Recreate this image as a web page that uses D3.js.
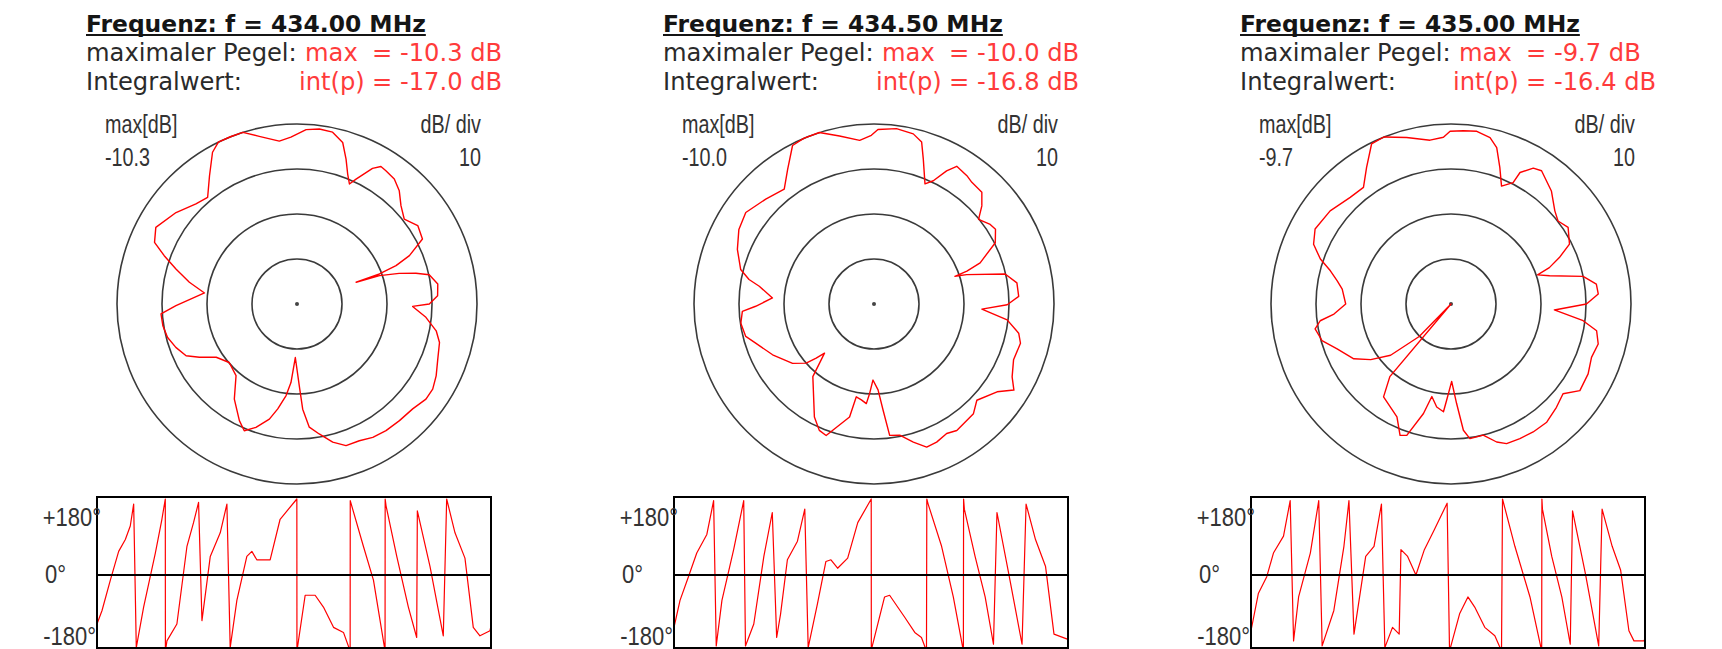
<!DOCTYPE html>
<html>
<head>
<meta charset="utf-8">
<script src="https://cdn.jsdelivr.net/npm/d3@7"></script>
<style>
  body { margin: 0; background: #fff; }
  svg { display: block; }
</style>
</head>
<body>
<svg id="chart" width="1722" height="649"></svg>
<script>
'use strict';

// values
var freqs = ['434.00', '434.50', '435.00'];
var maxLevels = ['-10.3', '-10.0', '-9.7'];
var intLevels = ['-17.0', '-16.8', '-16.4'];
var dbPerDiv = 10;
var ringLevels = [-30, -20, -10, 0];
var phaseTicks = [180, 0, -180];
var phaseTickLabels = ['+180°', '0°', '-180°'];

/* polar traces: [azimuth deg (clockwise from top), level dB rel. max] */
var polar1 = [[3.0,-1.2],[7.3,-0.8],[11.7,-1.0],[15.8,-2.7],[18.7,-6.0],[21.3,-9.0],[23.6,-10.9],[25.3,-9.3],[29.1,-5.5],[31.4,-4.2],[33.7,-4.4],[37.9,-4.8],[42.1,-6.1],[46.6,-8.2],[51.6,-9.6],[57.0,-8.0],[62.6,-8.6],[66.7,-12.8],[68.8,-16.4],[70.0,-20.5],[69.8,-26.0],[71.0,-20.6],[73.3,-16.3],[75.5,-12.7],[77.5,-9.9],[81.9,-8.4],[86.6,-8.7],[90.0,-10.6],[91.2,-14.3],[95.9,-11.2],[100.9,-8.5],[105.1,-7.2],[111.4,-6.4],[117.3,-5.2],[122.1,-4.4],[126.4,-4.4],[132.2,-5.3],[138.7,-5.5],[144.9,-5.6],[150.4,-5.9],[155.5,-6.6],[160.9,-6.7],[165.5,-8.3],[170.3,-10.7],[174.3,-12.5],[176.9,-16.6],[178.4,-21.8],[181.8,-28.1],[184.4,-22.5],[186.8,-19.5],[190.4,-16.3],[193.5,-13.7],[198.4,-11.1],[202.6,-9.5],[206.3,-11.1],[213.4,-14.7],[220.4,-19.1],[229.2,-20.1],[236.6,-18.5],[241.4,-15.3],[245.0,-12.8],[250.3,-11.4],[255.5,-10.3],[260.8,-9.8],[265.8,-9.7],[269.2,-13.1],[276.8,-19.3],[281.4,-15.6],[286.1,-12.0],[290.0,-8.6],[293.4,-5.5],[298.5,-4.3],[307.1,-6.3],[314.7,-8.4],[320.0,-9.1],[325.7,-5.5],[330.9,-1.4],[334.1,0],[338.3,0],[342.5,0],[347.3,-1.8],[353.8,-3.6],[357.9,-2.9]];
var polar2 = [[1.3,-1.2],[7.3,-0.7],[13.0,-1.2],[16.4,-2.5],[18.8,-6.0],[23.0,-11.0],[25.7,-9.6],[28.6,-6.3],[31.0,-4.3],[35.9,-4.8],[38.8,-5.3],[44.0,-5.5],[47.7,-7.6],[51.0,-10.1],[55.6,-8.7],[58.4,-8.3],[63.2,-9.8],[68.8,-14.7],[70.5,-18.1],[71.1,-21.0],[72.4,-18.4],[77.1,-10.1],[81.6,-7.9],[87.0,-7.8],[90.3,-10.4],[92.7,-16.0],[96.8,-10.2],[101.4,-7.2],[105.0,-6.3],[111.8,-6.6],[117.8,-5.3],[121.6,-3.5],[125.5,-6.4],[133.1,-8.7],[137.8,-7.1],[146.8,-6.4],[150.7,-7.0],[155.6,-6.3],[159.8,-6.1],[164.1,-8.1],[168.9,-10.3],[173.2,-10.6],[175.1,-16.3],[177.3,-20.9],[180.8,-23.1],[182.8,-20.1],[184.4,-17.8],[187.5,-18.5],[190.8,-19.0],[192.2,-14.3],[200.0,-8.9],[203.4,-9.4],[207.8,-11.6],[220.1,-18.9],[225.2,-24.5],[226.9,-22.4],[228.9,-20.0],[233.9,-17.6],[243.4,-14.8],[251.7,-12.3],[255.8,-10.6],[261.8,-10.1],[266.8,-10.7],[268.9,-13.7],[273.4,-17.4],[278.8,-14.2],[281.1,-11.7],[284.5,-9.4],[291.8,-7.3],[298.9,-5.7],[305.5,-5.0],[314.1,-6.5],[322.0,-7.6],[327.4,-4.4],[332.8,-0.4],[337.0,0],[342.3,0],[348.4,-1.9],[355.0,-3.5],[359.1,-2.5]];
var polar3 = [[4.1,-1.4],[8.5,-1.2],[13.2,-2.0],[16.3,-3.8],[19.7,-7.8],[23.2,-11.5],[27.1,-9.7],[27.7,-7.0],[31.2,-4.7],[34.2,-4.2],[41.6,-6.4],[48.1,-9.0],[52.2,-9.9],[56.8,-8.9],[63.2,-10.5],[66.8,-13.8],[69.7,-16.7],[71.4,-19.7],[74.0,-17.2],[78.2,-10.0],[82.2,-7.4],[86.1,-7.2],[90.0,-9.9],[93.3,-17.0],[97.2,-10.4],[100.4,-7.1],[105.2,-6.1],[110.8,-6.6],[117.0,-5.8],[123.9,-5.5],[128.7,-8.1],[134.4,-7.2],[141.0,-6.2],[147.3,-6.2],[152.9,-6.4],[158.3,-6.6],[161.7,-7.7],[166.2,-10.0],[172.0,-9.8],[174.4,-11.8],[176.8,-17.9],[179.5,-22.8],[182.6,-18.6],[184.0,-16.0],[187.9,-16.9],[191.7,-19.0],[194.1,-14.9],[198.6,-9.2],[201.2,-8.7],[205.6,-12.2],[216.0,-14.5],[220.1,-18.9],[222.0,-40],[224.4,-29.9],[229.7,-22.4],[235.3,-18.3],[240.6,-15.2],[248.5,-12.8],[254.2,-10.2],[259.6,-9.3],[262.7,-10.7],[265.1,-13.9],[270.0,-16.6],[277.8,-15.6],[281.5,-14.2],[285.4,-12.2],[289.0,-9.3],[293.5,-6.7],[298.9,-5.5],[307.6,-6.1],[316.6,-7.4],[323.1,-7.6],[328.3,-4.3],[333.6,-0.3],[338.1,0],[345.1,-1.7],[352.7,-3.3],[357.4,-2.9],[359.7,-1.6]];

/* phase traces: [azimuth deg, phase deg] */
var phase1 = [[0,-116],[4.6,-84],[12.2,-12],[19.8,56],[25.9,84],[30.4,116],[33.5,168],[35.9,-172],[42.6,-76],[53.3,52],[59.3,132],[62.4,180],[62.5,-180],[63.9,-156],[73.0,-116],[82.2,68],[88.2,124],[92.8,172],[95.9,-108],[103.5,44],[112.6,100],[118.7,168],[121.7,-172],[127.8,-60],[136.9,44],[141.5,56],[146.0,36],[158.2,36],[167.3,132],[182.6,180],[182.7,-180],[190.2,-48],[199.3,-48],[206.9,-76],[216.1,-124],[225.2,-136],[231.3,-180],[231.4,176],[243.4,68],[252.6,-12],[263.2,-180],[263.3,180],[264.1,164],[273.9,44],[284.5,-76],[292.1,-148],[292.7,152],[304.3,20],[316.4,-144],[319.5,180],[327.1,100],[336.2,40],[343.8,-124],[349.9,-144],[359.1,-132],[360,-120]];
var phase2 = [[0,-124],[5.5,-60],[13.2,-4],[20.8,52],[30.0,96],[36.2,176],[38.6,-168],[43.8,-60],[54.5,60],[63.7,176],[65.3,-168],[72.9,-116],[82.1,44],[89.8,148],[93.8,-148],[97.4,-92],[103.6,36],[112.8,80],[119.5,156],[122.6,-172],[131.1,-68],[138.8,32],[143.4,36],[149.5,16],[158.7,40],[167.9,124],[180.2,180],[180.3,-180],[180.8,-172],[192.4,-52],[197.0,-48],[210.8,-100],[220.0,-136],[226.1,-148],[230.7,-180],[231.0,180],[232.2,168],[244.5,68],[255.2,-52],[264.4,-180],[264.6,180],[265.3,156],[275.1,44],[284.3,-52],[291.9,-164],[295.1,148],[305.8,4],[318.0,-164],[321.7,168],[330.3,84],[339.5,20],[347.2,-140],[359.4,-152],[360,-152]];
var phase3 = [[0,-132],[6.7,-44],[14.4,-4],[20.5,52],[29.7,92],[35.8,176],[38.9,-156],[43.5,-52],[54.2,52],[61.9,176],[65.0,-168],[75.7,-84],[84.9,68],[89.5,176],[94.1,-140],[104.8,44],[112.4,68],[119.2,168],[122.3,-172],[129.3,-124],[135.4,-140],[137.0,60],[143.1,44],[150.7,0],[158.4,60],[167.6,108],[179.2,170],[181.4,-180],[190.6,-92],[198.2,-52],[204.4,-76],[213.6,-124],[222.8,-144],[228.9,-180],[229.8,180],[241.1,68],[254.9,-52],[265.6,-180],[265.8,180],[266.3,156],[274.8,44],[284.0,-52],[291.7,-164],[293.8,152],[305.5,4],[317.7,-168],[320.8,156],[330.0,68],[337.7,12],[345.3,-132],[349.9,-156],[359.1,-156],[360,-150]];

var polarSets = [polar1, polar2, polar3];
var phaseSets = [phase1, phase2, phase3];

// layout
var panelStep = 577;
var polarCx = 297, polarCy = 304, polarR = 180;
var boxX = 97, boxW = 394, boxTop = 497, boxBottom = 648;
var red = '#ff0000', textRed = '#ff3b3b';
var headFont = '"DejaVu Sans", Verdana, sans-serif';
var labFont = '"Liberation Sans", Arial, sans-serif';

var svg = d3.select('#chart');

var r = d3.scaleLinear().domain([-40, 0]).range([0, polarR]).clamp(true);
var phaseY = d3.scaleLinear().domain([-180, 180]).range([651, 499]);

svg.append('defs').append('clipPath')
    .attr('id', 'boxclip')
  .append('rect')
    .attr('x', boxX).attr('y', boxTop)
    .attr('width', boxW).attr('height', boxBottom - boxTop);

// narrow label text (squeezed horizontally)
function narrowText(sel, x, y, txt, anchor, sx) {
  return sel.append('text')
      .attr('transform', 'translate(' + x + ',' + y + ') scale(' + sx + ',1)')
      .attr('text-anchor', anchor)
      .text(txt);
}

freqs.forEach(function(f, i) {
  var g = svg.append('g')
      .attr('transform', 'translate(' + (i * panelStep) + ',0)');

  /* header text */
  var title = g.append('text')
      .attr('x', 86).attr('y', 32)
      .style('font-family', headFont)
      .style('font-weight', 'bold')
      .style('font-size', '23.4px')
      .style('fill', '#151515')
      .text('Frequenz: f = ' + f + ' MHz');
  var tw = title.node().getComputedTextLength();
  g.append('line')
      .attr('x1', 86).attr('x2', 86 + tw)
      .attr('y1', 35).attr('y2', 35)
      .style('stroke', '#151515')
      .style('stroke-width', 2);

  var hdr = [
    {label: 'maximaler Pegel:', key: 'max', kx: 305, val: '= ' + maxLevels[i] + ' dB', y: 61},
    {label: 'Integralwert:', key: 'int(p)', kx: 299, val: '= ' + intLevels[i] + ' dB', y: 90}
  ];
  hdr.forEach(function(h) {
    var t = g.append('g')
        .style('font-family', headFont)
        .style('font-size', '24.2px');
    t.append('text').attr('x', 86).attr('y', h.y).style('fill', '#2a2a2a').text(h.label);
    t.append('text').attr('x', h.kx).attr('y', h.y).style('fill', textRed).text(h.key);
    t.append('text').attr('x', 372).attr('y', h.y).style('fill', textRed).text(h.val);
  });

  /* polar plot */
  var pg = g.append('g')
      .attr('transform', 'translate(' + polarCx + ',' + polarCy + ')');

  pg.selectAll('circle.ring')
    .data(ringLevels)
    .enter()
    .append('circle')
      .attr('class', 'ring')
      .attr('r', function(d) { return r(d); })
      .style('fill', 'none')
      .style('stroke', '#3a3a3a')
      .style('stroke-width', 1.6);

  pg.append('circle')
      .attr('r', 2)
      .style('fill', '#444');

  var radial = d3.lineRadial()
      .angle(function(d) { return d[0] * Math.PI / 180; })
      .radius(function(d) { return r(d[1]); })
      .curve(d3.curveLinearClosed);

  pg.append('path')
      .datum(polarSets[i])
      .attr('d', radial)
      .style('fill', 'none')
      .style('stroke', red)
      .style('stroke-width', 1.4)
      .style('stroke-linejoin', 'round');

  var lab = g.append('g')
      .style('font-family', labFont)
      .style('font-size', '26px')
      .style('fill', '#333');
  narrowText(lab, 105, 133, 'max[dB]', 'start', 0.76);
  narrowText(lab, 105, 166, maxLevels[i], 'start', 0.76);
  narrowText(lab, 481, 133, 'dB/ div', 'end', 0.76);
  narrowText(lab, 481, 166, dbPerDiv, 'end', 0.76);

  /* phase plot */
  var x = d3.scaleLinear().domain([0, 360]).range([boxX, boxX + boxW]);

  g.append('path')
      .datum(phaseSets[i])
      .attr('clip-path', 'url(#boxclip)')
      .attr('d', d3.line()
        .x(function(d) { return x(d[0]); })
        .y(function(d) { return phaseY(d[1]); }))
      .style('fill', 'none')
      .style('stroke', red)
      .style('stroke-width', 1.2)
      .style('stroke-linejoin', 'round');

  g.append('line')
      .attr('x1', boxX).attr('x2', boxX + boxW)
      .attr('y1', phaseY(0)).attr('y2', phaseY(0))
      .style('stroke', '#000')
      .style('stroke-width', 2);

  g.append('rect')
      .attr('x', boxX).attr('y', boxTop)
      .attr('width', boxW).attr('height', boxBottom - boxTop)
      .style('fill', 'none')
      .style('stroke', '#000')
      .style('stroke-width', 2);

  var plab = g.append('g')
      .style('font-family', labFont)
      .style('font-size', '25px')
      .style('fill', '#333');
  var tickEnds = [101, 66, 96];
  var tickBase = [526, 583, 645];
  phaseTicks.forEach(function(p, k) {
    narrowText(plab, tickEnds[k], tickBase[k], phaseTickLabels[k], 'end', 0.88);
  });
});
</script>
</body>
</html>
